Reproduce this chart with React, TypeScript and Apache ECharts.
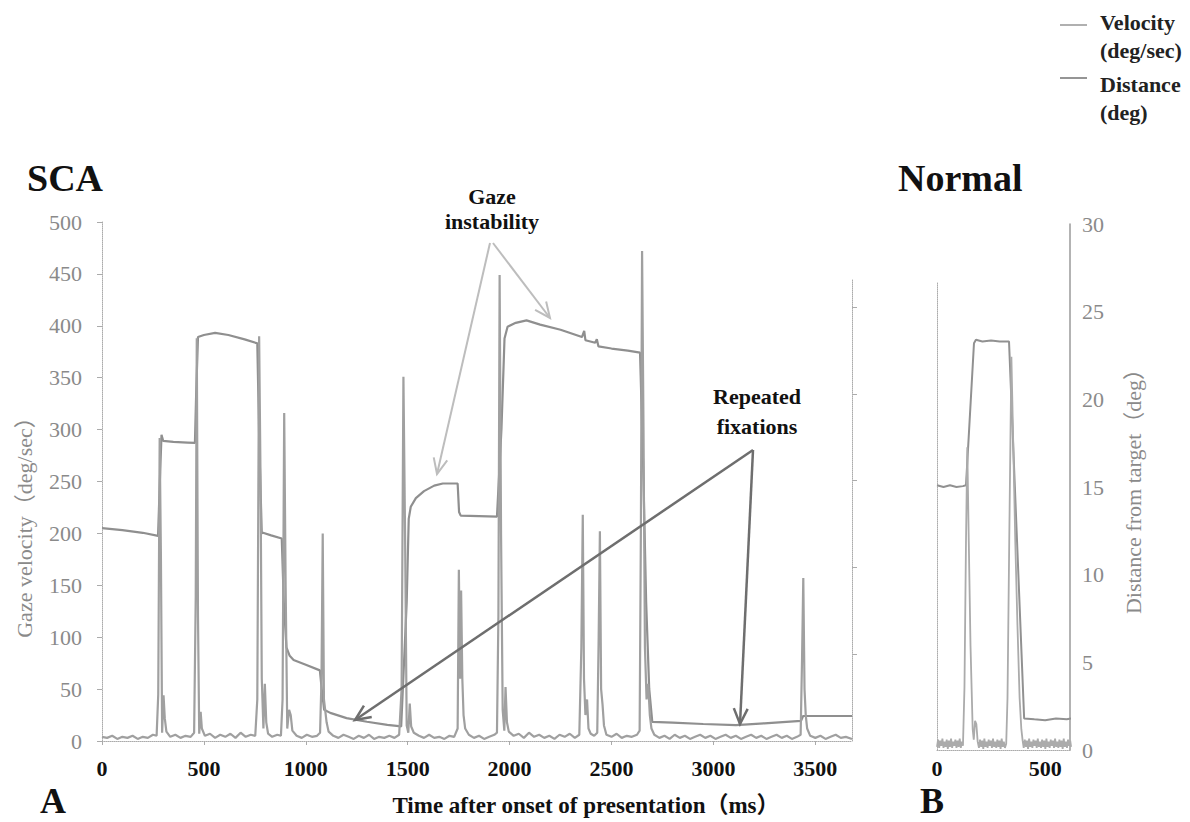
import React, { useEffect, useRef } from "react";
import * as echarts from "echarts";

// ---------- data ----------
const scaTimeTicks = [0, 500, 1000, 1500, 2000, 2500, 3000, 3500];
const distanceTicks = [5, 10, 15, 20, 25];
const normalTimeTicks = [0, 500];
const normalDistanceTicks = [0, 5, 10, 15, 20, 25, 30];

// SCA gaze velocity (deg/sec) : [time ms, velocity]
const scaVelocity: [number, number][] = [
  [0, 4], [25, 3], [50, 5], [75, 2], [100, 4], [125, 3], [150, 5], [175, 2], [200, 4], [225, 3], [250, 6], [268, 5],
  [276, 45], [283, 292], [289, 180], [295, 8], [302, 44], [308, 22], [316, 9], [335, 4], [360, 6], [385, 3], [410, 5],
  [435, 4], [452, 8], [460, 140], [465, 388], [471, 120], [477, 7], [484, 28], [490, 12], [505, 5], [530, 7], [555, 3],
  [580, 6], [605, 4], [630, 7], [655, 3], [680, 8], [705, 4], [730, 6], [752, 5], [762, 40], [771, 390], [778, 250],
  [784, 60], [792, 12], [799, 55], [806, 18], [815, 7], [835, 4], [860, 6], [878, 5], [886, 40], [894, 316], [901, 150],
  [909, 12], [918, 30], [926, 25], [934, 10], [955, 5], [980, 3], [1005, 6], [1030, 4], [1055, 5], [1070, 8], [1077, 60],
  [1083, 200], [1089, 40], [1095, 30], [1102, 18], [1112, 9], [1135, 5], [1160, 3], [1185, 6], [1210, 4], [1235, 2],
  [1260, 5], [1285, 3], [1310, 6], [1335, 2], [1360, 4], [1385, 3], [1410, 5], [1435, 3], [1458, 6], [1470, 50],
  [1479, 351], [1487, 200], [1495, 15], [1503, 8], [1510, 36], [1517, 14], [1530, 8], [1555, 5], [1580, 3], [1605, 6],
  [1630, 3], [1655, 4], [1680, 2], [1705, 5], [1728, 4], [1745, 12], [1751, 165], [1757, 60], [1762, 145], [1768, 60],
  [1774, 25], [1782, 12], [1800, 6], [1825, 3], [1850, 5], [1875, 2], [1900, 4], [1925, 6], [1938, 8], [1945, 120],
  [1951, 449], [1958, 200], [1966, 30], [1974, 10], [1980, 52], [1987, 18], [1996, 9], [2020, 5], [2045, 7], [2070, 3],
  [2095, 8], [2120, 4], [2145, 6], [2170, 3], [2195, 5], [2220, 2], [2245, 6], [2270, 4], [2295, 7], [2320, 3], [2342, 6],
  [2352, 90], [2359, 218], [2365, 60], [2372, 25], [2380, 40], [2387, 12], [2398, 7], [2415, 5], [2430, 8], [2437, 100],
  [2443, 202], [2449, 50], [2456, 35], [2463, 15], [2475, 6], [2500, 4], [2525, 7], [2550, 3], [2575, 5], [2600, 4],
  [2625, 6], [2638, 10], [2644, 200], [2650, 472], [2657, 300], [2664, 90], [2672, 40], [2680, 55], [2688, 25], [2696, 12],
  [2710, 6], [2735, 3], [2760, 5], [2785, 2], [2810, 6], [2835, 3], [2860, 5], [2885, 2], [2910, 4], [2935, 6], [2960, 3],
  [2985, 5], [3010, 2], [3035, 4], [3060, 6], [3085, 3], [3110, 5], [3135, 2], [3160, 4], [3185, 6], [3210, 3], [3235, 5],
  [3260, 2], [3285, 4], [3310, 6], [3335, 3], [3360, 5], [3385, 2], [3410, 4], [3428, 6], [3435, 80], [3441, 157],
  [3447, 50], [3453, 25], [3460, 12], [3475, 5], [3500, 3], [3525, 5], [3550, 2], [3575, 4], [3600, 6], [3625, 3],
  [3650, 4], [3680, 2],
];

// SCA distance from target (deg) : [time ms, distance]
const scaDistance: [number, number][] = [
  [0, 12.27], [100, 12.15], [200, 12.0], [275, 11.82], [284, 15.0], [292, 17.65], [300, 17.3], [350, 17.24], [420, 17.2],
  [456, 17.18], [462, 20.0], [471, 23.28], [500, 23.4], [555, 23.52], [620, 23.4], [700, 23.15], [762, 22.92], [772, 17.0],
  [784, 11.97], [790, 12.0], [830, 11.85], [882, 11.67], [892, 8.0], [905, 5.4], [921, 4.91], [940, 4.67], [1000, 4.4],
  [1069, 4.07], [1078, 3.0], [1090, 1.8], [1120, 1.62], [1200, 1.32], [1300, 1.11], [1400, 0.93], [1468, 0.84],
  [1495, 8.0], [1505, 12.8], [1515, 13.5], [1540, 14.0], [1580, 14.4], [1630, 14.72], [1672, 14.84], [1745, 14.84],
  [1752, 13.2], [1760, 12.99], [1850, 12.96], [1938, 12.93], [1960, 18.0], [1975, 23.2], [1990, 23.88], [2030, 24.1],
  [2083, 24.24], [2150, 24.0], [2250, 23.7], [2355, 23.28], [2366, 23.64], [2372, 23.1], [2420, 22.95], [2428, 23.15],
  [2436, 22.74], [2500, 22.62], [2580, 22.5], [2640, 22.38], [2655, 16.0], [2670, 8.0], [2685, 3.0], [2700, 1.1],
  [2800, 1.06], [2950, 0.98], [3110, 0.92], [3250, 1.02], [3430, 1.16], [3440, 1.44], [3550, 1.44], [3680, 1.44],
];

// Normal gaze velocity (deg/sec)
const normalVelocity: [number, number][] = [
  [0, 3], [5, 10], [10, 2], [15, 9], [20, 4], [25, 11], [30, 2], [35, 8], [40, 3], [45, 10], [50, 1], [55, 9], [60, 3],
  [65, 11], [70, 2], [75, 8], [80, 4], [85, 10], [90, 2], [95, 9], [100, 3], [105, 11], [110, 2], [115, 8], [120, 4],
  [127, 60], [134, 200], [140, 291], [147, 200], [155, 100], [165, 20], [170, 10], [176, 28], [182, 25], [188, 8],
  [194, 2], [199, 10], [204, 3], [209, 9], [214, 1], [219, 11], [224, 3], [229, 8], [234, 2], [239, 10], [244, 4],
  [249, 9], [254, 2], [259, 11], [264, 3], [269, 8], [274, 2], [279, 10], [284, 3], [289, 9], [294, 1], [299, 11],
  [304, 3], [309, 8], [314, 2], [320, 6], [326, 50], [334, 200], [344, 378], [352, 300], [362, 200], [372, 120],
  [382, 50], [390, 20], [396, 9], [401, 2], [406, 10], [411, 3], [416, 9], [421, 1], [426, 11], [431, 3], [436, 8],
  [441, 2], [446, 10], [451, 4], [456, 9], [461, 2], [466, 11], [471, 3], [476, 8], [481, 2], [486, 10], [491, 3],
  [496, 9], [501, 1], [506, 11], [511, 3], [516, 8], [521, 2], [526, 10], [531, 4], [536, 9], [541, 2], [546, 11],
  [551, 3], [556, 8], [561, 2], [566, 10], [571, 3], [576, 9], [581, 1], [586, 11], [591, 3], [596, 8], [601, 2],
  [606, 10], [611, 4], [616, 9], [620, 3],
];

// Normal distance from target (deg)
const normalDistance: [number, number][] = [
  [0, 15.1], [30, 15.0], [60, 15.1], [90, 15.0], [120, 15.05], [134, 15.1], [171, 23.2], [180, 23.4], [210, 23.3],
  [250, 23.35], [290, 23.3], [333, 23.3], [403, 1.8], [450, 1.75], [500, 1.7], [550, 1.8], [600, 1.75], [620, 1.8],
];

// ---------- styling ----------
const SERIF = "'Liberation Serif', 'Times New Roman', 'Noto Sans CJK SC', serif";
const GRAY_TEXT = "#8a8a8a";
const AXIS_GRAY = "#ababab";

function txt(x: number, y: number, text: string, opts: any = {}) {
  const align = opts.align || "center";
  return {
    type: "text",
    x,
    y,
    rotation: opts.rotation || 0,
    z: 100,
    style: {
      text,
      fill: opts.fill || "#111",
      fontSize: opts.size || 22,
      fontWeight: opts.weight || "normal",
      fontFamily: SERIF,
      align,
      verticalAlign: "middle",
      textAlign: align,
      textVerticalAlign: "middle",
    },
  };
}

function arrow(x1: number, y1: number, x2: number, y2: number, color: string, width: number) {
  const ang = Math.atan2(y2 - y1, x2 - x1);
  const len = 17;
  const spread = 0.42;
  const p1 = [x2 - len * Math.cos(ang - spread), y2 - len * Math.sin(ang - spread)];
  const p2 = [x2 - len * Math.cos(ang + spread), y2 - len * Math.sin(ang + spread)];
  return [
    { type: "line", z: 100, shape: { x1, y1, x2, y2 }, style: { stroke: color, lineWidth: width } },
    { type: "polyline", z: 100, shape: { points: [p1, [x2, y2], p2] }, style: { stroke: color, lineWidth: width, fill: null } },
  ];
}

const plain = (v: number) => String(v);
const dottedLine = { show: true, onZero: false, lineStyle: { color: AXIS_GRAY, width: 1, type: "dotted" } };

const option: any = {
  animation: false,
  backgroundColor: "#ffffff",
  textStyle: { fontFamily: SERIF },
  grid: [
    { left: 102, top: 222, width: 750, height: 519, containLabel: false, outerBoundsMode: "none" },
    { left: 102, top: 280, width: 750, height: 461, containLabel: false, outerBoundsMode: "none" },
    { left: 937, top: 282, width: 133, height: 468, containLabel: false, outerBoundsMode: "none" },
    { left: 937, top: 224, width: 133, height: 526, containLabel: false, outerBoundsMode: "none" },
  ],
  xAxis: [
    {
      type: "value", gridIndex: 0, min: 0, max: 3680, interval: 500,
      axisLine: dottedLine,
      axisTick: { show: true, inside: false, length: 4, customValues: scaTimeTicks, lineStyle: { color: AXIS_GRAY } },
      axisLabel: { customValues: scaTimeTicks, formatter: plain, color: "#111", fontSize: 22, fontWeight: "bold", margin: 16, fontFamily: SERIF },
      splitLine: { show: false },
    },
    { type: "value", gridIndex: 1, min: 0, max: 3680, show: false },
    {
      type: "value", gridIndex: 2, min: 0, max: 615, interval: 500,
      axisLine: dottedLine,
      axisTick: { show: false },
      axisLabel: { customValues: normalTimeTicks, formatter: plain, color: "#111", fontSize: 22, fontWeight: "bold", margin: 7, fontFamily: SERIF },
      splitLine: { show: false },
    },
    { type: "value", gridIndex: 3, min: 0, max: 615, show: false },
  ],
  yAxis: [
    {
      type: "value", gridIndex: 0, position: "left", min: 0, max: 500, interval: 50,
      axisLine: dottedLine,
      axisTick: { show: true, inside: false, length: 5, lineStyle: { color: AXIS_GRAY } },
      axisLabel: { formatter: plain, color: GRAY_TEXT, fontSize: 22, margin: 20, fontFamily: SERIF },
      splitLine: { show: false },
    },
    {
      type: "value", gridIndex: 1, position: "right", min: 0, max: 26.57,
      axisLine: dottedLine,
      axisTick: { show: true, inside: false, length: 5, customValues: distanceTicks, lineStyle: { color: AXIS_GRAY } },
      axisLabel: { show: false },
      splitLine: { show: false },
    },
    {
      type: "value", gridIndex: 2, position: "left", min: 0, max: 450,
      axisLine: dottedLine,
      axisTick: { show: false },
      axisLabel: { show: false },
      splitLine: { show: false },
    },
    {
      type: "value", gridIndex: 3, position: "right", min: 0, max: 30, interval: 5,
      axisLine: { show: true, onZero: false, lineStyle: { color: "#9a9a9a", width: 1.5 } },
      axisTick: { show: false },
      axisLabel: { customValues: normalDistanceTicks, formatter: plain, color: GRAY_TEXT, fontSize: 22, margin: 12, fontFamily: SERIF },
      splitLine: { show: false },
    },
  ],
  series: [
    {
      name: "Velocity (deg/sec)", type: "line", xAxisIndex: 0, yAxisIndex: 0, data: scaVelocity,
      symbol: "none", showSymbol: false, lineStyle: { color: "#a0a0a0", width: 2.2 }, z: 3,
    },
    {
      name: "Distance (deg)", type: "line", xAxisIndex: 1, yAxisIndex: 1, data: scaDistance,
      symbol: "none", showSymbol: false, lineStyle: { color: "#8f8f8f", width: 2.2 }, z: 2,
    },
    {
      name: "Velocity (deg/sec)", type: "line", xAxisIndex: 2, yAxisIndex: 2, data: normalVelocity,
      symbol: "none", showSymbol: false, lineStyle: { color: "#ababab", width: 1.8 }, z: 3,
    },
    {
      name: "Distance (deg)", type: "line", xAxisIndex: 3, yAxisIndex: 3, data: normalDistance,
      symbol: "none", showSymbol: false, lineStyle: { color: "#919191", width: 2 }, z: 2,
    },
  ],
  graphic: [
    // legend
    { type: "line", z: 100, shape: { x1: 1060, y1: 25, x2: 1087, y2: 25 }, style: { stroke: "#b0b0b0", lineWidth: 2 } },
    txt(1100, 22, "Velocity", { align: "left", weight: "bold", fill: "#222" }),
    txt(1100, 50, "(deg/sec)", { align: "left", weight: "bold", fill: "#222" }),
    { type: "line", z: 100, shape: { x1: 1060, y1: 78, x2: 1087, y2: 78 }, style: { stroke: "#959595", lineWidth: 2 } },
    txt(1100, 84, "Distance", { align: "left", weight: "bold", fill: "#222" }),
    txt(1100, 112, "(deg)", { align: "left", weight: "bold", fill: "#222" }),
    // panel titles
    txt(27, 178, "SCA", { align: "left", weight: "bold", size: 38, fill: "#111" }),
    txt(898, 178, "Normal", { align: "left", weight: "bold", size: 38, fill: "#111" }),
    txt(40, 801, "A", { align: "left", weight: "bold", size: 36, fill: "#111" }),
    txt(920, 801, "B", { align: "left", weight: "bold", size: 36, fill: "#111" }),
    // axis titles
    txt(586, 805, "Time after onset of presentation（ms）", { weight: "bold", size: 23, fill: "#111" }),
    txt(24, 522, "Gaze velocity（deg/sec）", { rotation: Math.PI / 2, fill: GRAY_TEXT }),
    txt(1133, 486, "Distance from target（deg）", { rotation: Math.PI / 2, fill: GRAY_TEXT }),
    // annotations
    txt(492, 196, "Gaze", { weight: "bold" }),
    txt(492, 221, "instability", { weight: "bold" }),
    txt(757, 396, "Repeated", { weight: "bold" }),
    txt(757, 426, "fixations", { weight: "bold" }),
    ...arrow(490, 243, 437, 474, "#bdbdbd", 2),
    ...arrow(493, 243, 550, 318, "#bdbdbd", 2),
    ...arrow(753, 450, 355, 720, "#6e6e6e", 2.5),
    ...arrow(753, 450, 740, 724, "#6e6e6e", 2.5),
  ],
};

export default function App() {
  const ref = useRef<HTMLDivElement>(null);
  useEffect(() => {
    if (!ref.current) return;
    const chart = echarts.init(ref.current, null, { renderer: "svg" });
    chart.setOption(option);
    return () => chart.dispose();
  }, []);
  return (
    <div
      ref={ref}
      style={{ position: "fixed", left: 0, top: 0, width: 1190, height: 822, background: "#fff" }}
    />
  );
}
